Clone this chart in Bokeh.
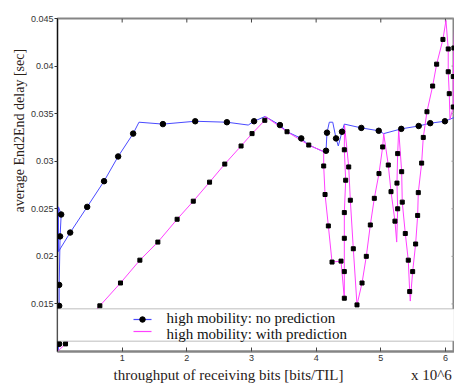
from bokeh.plotting import figure
from bokeh.models import Range1d, FixedTicker, CustomJSTickFormatter, BoxAnnotation, Label, Title
from bokeh.embed import file_html
from bokeh.resources import INLINE

# --- series: high mobility, no prediction (line vertices and marked samples) ---
bx = [0.005, 0.026, 0.026, 0.026, 0.040, 0.057, 0.015, 0.015, 0.196, 0.459, 0.720, 0.938,
      1.170, 1.260, 1.630, 2.130, 2.620, 2.950, 3.040, 3.210, 3.440, 3.550, 3.770, 3.886,
      4.117, 4.153, 4.168, 4.204, 4.257, 4.308, 4.343, 4.400, 4.436, 4.699, 4.968, 5.045,
      5.317, 5.586, 5.765, 5.992, 6.136]
by = [0.0100, 0.0108, 0.0148, 0.0170, 0.0221, 0.0244, 0.0252, 0.0205, 0.0225, 0.0252, 0.0279, 0.0305,
      0.0329, 0.0341, 0.0339, 0.0342, 0.0341, 0.0338, 0.0342, 0.0347, 0.0338, 0.0331, 0.0324, 0.0317,
      0.0310, 0.0311, 0.0330, 0.0341, 0.0341, 0.0324, 0.0316, 0.0331, 0.0339, 0.0335, 0.0332, 0.0329,
      0.0334, 0.0337, 0.0340, 0.0342, 0.0346]
bmx = [0.026, 0.026, 0.026, 0.040, 0.057, 0.196, 0.459, 0.720, 0.938, 1.170, 1.630, 2.130, 2.620,
       3.040, 3.440, 3.770, 4.153, 4.168, 4.308, 4.400, 4.699, 4.968, 5.317, 5.586, 5.765, 5.992]
bmy = [0.0108, 0.0148, 0.0170, 0.0221, 0.0244, 0.0225, 0.0252, 0.0279, 0.0305, 0.0329, 0.0339, 0.0342, 0.0341,
       0.0342, 0.0338, 0.0324, 0.0311, 0.0330, 0.0324, 0.0331, 0.0335, 0.0332, 0.0334, 0.0337, 0.0340, 0.0342]

# --- series: high mobility, with prediction ---
mx = [0.0, 0.124, 0.655, 0.974, 1.274, 1.552, 1.850, 2.100, 2.352, 2.587, 2.839, 3.009, 3.206, 3.215,
      3.550, 3.886, 4.117, 4.117, 4.138, 4.189, 4.246, 4.385, 4.436, 4.436, 4.436, 4.436, 4.457, 4.436,
      4.439, 4.504, 4.529, 4.575, 4.632, 4.710, 4.776, 4.838, 4.900, 4.972, 5.029, 5.045, 5.116, 5.158,
      5.219, 5.246, 5.261, 5.250, 5.261, 5.277, 5.323, 5.332, 5.379, 5.425, 5.447, 5.456, 5.493, 5.539,
      5.570, 5.580, 5.632, 5.657, 5.714, 5.802, 5.864, 5.961, 6.008, 6.043, 6.043, 6.059, 6.070, 6.121,
      6.121, 6.131, 6.140]
my = [0.0100, 0.0108, 0.0148, 0.0172, 0.0196, 0.0215, 0.0239, 0.0258, 0.0278, 0.0297, 0.0316, 0.0329, 0.0343, 0.0347,
      0.0331, 0.0317, 0.0310, 0.0295, 0.0265, 0.0232, 0.0194, 0.0195, 0.0156, 0.0184, 0.0219, 0.0246, 0.0280, 0.0312,
      0.0338, 0.0294, 0.0259, 0.0208, 0.0149, 0.0172, 0.0200, 0.0233, 0.0261, 0.0287, 0.0315, 0.0329, 0.0296, 0.0268,
      0.0237, 0.0215, 0.0250, 0.0277, 0.0308, 0.0333, 0.0289, 0.0257, 0.0224, 0.0196, 0.0163, 0.0153, 0.0184, 0.0213,
      0.0243, 0.0267, 0.0298, 0.0325, 0.0352, 0.0379, 0.0402, 0.0428, 0.0448, 0.0418, 0.0394, 0.0371, 0.0344, 0.0357,
      0.0389, 0.0419, 0.0440]
mmx = [0.124, 0.655, 0.974, 1.274, 1.552, 1.850, 2.100, 2.352, 2.587, 2.839, 3.009, 3.206, 3.550, 3.886,
       4.117, 4.138, 4.189, 4.246, 4.385, 4.436, 4.436, 4.436, 4.436, 4.457, 4.436, 4.504, 4.529, 4.575,
       4.632, 4.710, 4.776, 4.838, 4.900, 4.972, 5.029, 5.116, 5.158, 5.219, 5.261, 5.250, 5.261, 5.323,
       5.332, 5.379, 5.425, 5.447, 5.493, 5.539, 5.570, 5.580, 5.632, 5.657, 5.714, 5.802, 5.864, 5.961,
       6.043, 6.043, 6.059, 6.121, 6.121, 6.131]
mmy = [0.0108, 0.0148, 0.0172, 0.0196, 0.0215, 0.0239, 0.0258, 0.0278, 0.0297, 0.0316, 0.0329, 0.0343, 0.0331, 0.0317,
       0.0295, 0.0265, 0.0232, 0.0194, 0.0195, 0.0156, 0.0184, 0.0219, 0.0246, 0.0280, 0.0312, 0.0294, 0.0259, 0.0208,
       0.0149, 0.0172, 0.0200, 0.0233, 0.0261, 0.0287, 0.0315, 0.0296, 0.0268, 0.0237, 0.0250, 0.0277, 0.0308, 0.0289,
       0.0257, 0.0224, 0.0196, 0.0163, 0.0184, 0.0213, 0.0243, 0.0267, 0.0298, 0.0325, 0.0352, 0.0379, 0.0402, 0.0428,
       0.0418, 0.0394, 0.0371, 0.0357, 0.0389, 0.0419]

x_ticks = [1, 2, 3, 4, 5, 6]
y_ticks = [0.015, 0.02, 0.025, 0.03, 0.035, 0.04, 0.045]
series_names = ["high mobility: no prediction", "high mobility: with prediction"]
x_label = "throughput of receiving bits [bits/TIL]"
x_scale_note = "x 10^6"
y_label = "average End2End delay [sec]"

BLUE = "#4a4aff"
MAGENTA = "#ff40ff"
TEXT = "#2a2118"
SERIF = "Liberation Serif"
SANS = "Liberation Sans"

# frame geometry (canvas pixels)
W, H = 454, 385
LEFT, TOP, FW, FH = 57, 18, 397, 333
X0, X1 = 0.0, 6.14
Y0, Y1 = 0.010, 0.045


def px_x(px):
    return X0 + (px - LEFT) / FW * (X1 - X0)


def px_y(py):
    return Y0 + (TOP + FH - py) / FH * (Y1 - Y0)


def dx(n):
    return n / FW * (X1 - X0)


def dy(n):
    return n / FH * (Y1 - Y0)


p = figure(width=W, height=H, output_backend="svg", toolbar_location=None,
           x_range=Range1d(X0, X1), y_range=Range1d(Y0, Y1),
           min_border_left=LEFT, min_border_right=0, min_border_top=TOP,
           min_border_bottom=H - TOP - FH)
p.grid.visible = False
p.background_fill_color = "white"
p.border_fill_color = "white"
# box around the axes (top edge visible; left edge covered by the y axis)
p.outline_line_color = "#858585"
p.outline_line_width = 2
p.outline_line_alpha = 1.0

# bottom axis
xa = p.xaxis[0]
xa.ticker = FixedTicker(ticks=x_ticks)
xa.axis_line_color = "#858585"
xa.axis_line_width = 2
xa.major_tick_in = 4
xa.major_tick_out = 0
xa.major_tick_line_color = "#444444"
xa.minor_tick_line_color = None
xa.major_label_text_font = SANS
xa.major_label_text_font_size = "9px"
xa.major_label_text_color = "#333333"
xa.major_label_standoff = 3

# left axis
ya = p.yaxis[0]
ya.ticker = FixedTicker(ticks=y_ticks)
ya.formatter = CustomJSTickFormatter(code="return tick.toFixed(3).replace(/0+$/, '');")
ya.axis_line_color = "#111111"
ya.axis_line_width = 1
ya.major_tick_in = 0
ya.major_tick_out = 3
ya.major_tick_line_color = "#333333"
ya.minor_tick_line_color = None
ya.major_label_text_font = SANS
ya.major_label_text_font_size = "9px"
ya.major_label_text_color = "#333333"
ya.major_label_standoff = 1

# inward ticks along the top and right edges of the box
p.segment(x0=x_ticks, y0=[Y1] * len(x_ticks), x1=x_ticks, y1=[Y1 - dy(4)] * len(x_ticks),
          line_color="#444444", line_width=1)
p.segment(x0=[X1] * len(y_ticks), y0=y_ticks, x1=[X1 - dx(3)] * len(y_ticks), y1=y_ticks,
          line_color="#999999", line_width=1)

# data
p.line(bx, by, line_color=BLUE, line_width=1)
p.line(mx, my, line_color=MAGENTA, line_width=1)
p.scatter(bmx, bmy, marker="circle", size=5.5, fill_color="black", line_color="black")
p.scatter(mmx, mmy, marker="square", size=4, fill_color="black", line_color="black")

# legend band across the axes
p.add_layout(BoxAnnotation(bottom=px_y(340.7), top=px_y(308.3), fill_color="white", fill_alpha=1.0,
                           line_color="#6e6e6e", line_width=1.5, level="annotation"))
row1, row2 = px_y(319), px_y(331)
p.line([px_x(133), px_x(151)], [row1, row1], line_color=BLUE, line_width=1.2, level="overlay")
p.scatter([px_x(142)], [row1], marker="circle", size=5.5, fill_color="black", line_color="black",
          level="overlay")
p.line([px_x(133), px_x(151)], [row2, row2], line_color=MAGENTA, line_width=1.2, level="overlay")
for name, row in zip(series_names, [px_y(317), px_y(333.5)]):
    p.add_layout(Label(x=px_x(166), y=row, text=name, text_font=SERIF, text_font_size="15px",
                       text_color="#111111", text_baseline="middle", text_align="left",
                       level="overlay"))

# axis titles
gap = "\u00a0" * 18
p.add_layout(Title(text=x_label + gap + x_scale_note, align="left", offset=56, standoff=3,
                   text_font=SERIF, text_font_size="15px", text_font_style="normal",
                   text_color=TEXT), "below")
p.add_layout(Title(text=y_label, align="left", offset=139, standoff=2,
                   text_font=SERIF, text_font_size="14px", text_font_style="normal",
                   text_color=TEXT), "left")

open("out.html", "w").write(file_html(p, INLINE))
